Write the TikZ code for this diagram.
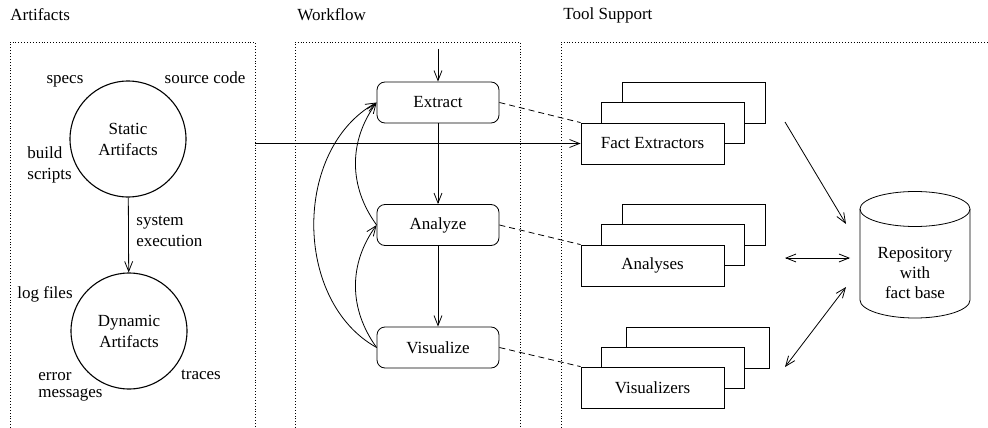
\documentclass[tikz,border=0pt]{standalone}
\usepackage{fontspec}
\setmainfont{Liberation Serif}[Ligatures=TeX]
\usetikzlibrary{arrows.meta}
\begin{document}
\begin{tikzpicture}[x=1pt,y=-1pt,
  font=\rmfamily\fontsize{17}{21}\selectfont,
  line width=0.8pt,
  arr/.style={-{Straight Barb[length=10pt,width=8pt,line width=0.8pt]}},
  darr/.style={{Straight Barb[length=10pt,width=8pt,line width=0.8pt]}-{Straight Barb[length=10pt,width=8pt,line width=0.8pt]}},
  frame/.style={dotted, line width=0.9pt},
  circ/.style={circle, draw, line width=1.1pt, minimum size=116pt, inner sep=0pt, align=center},
  wfbox/.style={draw, rounded corners=8pt, minimum width=122pt, minimum height=41pt, inner sep=0pt},
  tbox/.style={draw, fill=white, minimum width=143pt, minimum height=41pt, inner sep=0pt},
  lbl/.style={inner sep=0pt, align=left},
  link/.style={dash pattern=on 6pt off 4pt}]
\useasboundingbox (0,0) rectangle (988,428);

% titles
\node[lbl, anchor=west] (tA) at (10,15) {Artifacts};
\node[lbl, anchor=west] (tW) at (297,15) {Workflow};
\node[lbl, anchor=west] (tT) at (563,15) {Tool Support};

% dotted frames
\draw[frame] (10,428) -- (10,42) -- (255,42) -- (255,428);
\draw[frame] (295,428) -- (295,42) -- (520,42) -- (520,428);
\draw[frame] (561,428) -- (561,42) -- (988,42);

% artifacts
\node[circ] (static) at (128,139) {Static\\Artifacts};
\node[circ] (dynamic) at (129,331) {Dynamic\\Artifacts};
\draw[arr] (static) -- (dynamic);
\node[lbl, anchor=west] (sysex) at (136,231) {system\\execution};
\node[lbl] (specs) at (65,81) {specs};
\node[lbl] (src) at (205,78) {source code};
\node[lbl, anchor=west] (build) at (27,165) {build\\scripts};
\node[lbl] (logf) at (45,294) {log files};
\node[lbl, anchor=west, font=\fontsize{17}{17}\selectfont] (errm) at (38,387) {error\\messages};
\node[lbl] (traces) at (201,375) {traces};

% workflow
\node[wfbox] (extract) at (438,102.5) {Extract};
\node[wfbox] (analyze) at (438,225) {Analyze};
\node[wfbox] (visualize) at (438,347.5) {Visualize};
\coordinate (win) at (438,49);
\draw[arr] (win) -- (extract);
\draw[arr] (extract) -- (analyze);
\draw[arr] (analyze) -- (visualize);
\draw[arr] (visualize.west) to[bend left=61] (extract.west);
\draw[arr] (analyze.west) to[bend left=36] (extract.west);
\draw[arr] (visualize.west) to[bend left=36] (analyze.west);

% tool support stacks
\node[tbox] (fe3) at (693.5,102.5) {};
\node[tbox] (fe2) at (673,123) {};
\node[tbox] (fe) at (652.5,143.5) {Fact Extractors};
\node[tbox] (an3) at (693.5,224.5) {};
\node[tbox] (an2) at (673,245) {};
\node[tbox] (an) at (652.5,265.5) {Analyses};
\node[tbox] (vi3) at (697.5,347.5) {};
\node[tbox] (vi2) at (672.5,367.5) {};
\node[tbox] (vi) at (652.5,387.5) {Visualizers};

\draw[link] (extract.east) -- (fe.north west);
\draw[link] (analyze.east) -- (an.north west);
\draw[link] (visualize.east) -- (vi.north west);

\coordinate (hstart) at (255,143.5);
\draw[arr] (hstart) -- (fe.west);

% repository
\draw (860,209) -- (860,300) arc[start angle=180, end angle=360, x radius=55pt, y radius=18pt] -- (970,209);
\draw (915,209) ellipse[x radius=55pt, y radius=17.5pt];
\node[align=center, font=\fontsize{17}{20}\selectfont] (repo) at (915,273) {Repository\\with\\fact base};

\coordinate (r1a) at (785,122);
\coordinate (r1b) at (846,224);
\coordinate (r2a) at (785,258);
\coordinate (r2b) at (850,258);
\coordinate (r3a) at (785,367);
\coordinate (r3b) at (846,287);
\draw[arr] (r1a) -- (r1b);
\draw[darr] (r2a) -- (r2b);
\draw[darr] (r3a) -- (r3b);
\end{tikzpicture}
\end{document}
